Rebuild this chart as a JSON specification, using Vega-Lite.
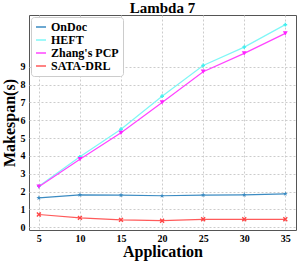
{
  "$schema": "https://vega.github.io/schema/vega-lite/v6.json",
  "width": 267,
  "height": 215,
  "autosize": "none",
  "padding": {"left": 29, "top": 15, "right": 4, "bottom": 31},
  "background": "white",
  "title": {"text": "Lambda 7", "font": "Liberation Serif", "fontSize": 15, "fontWeight": "bold", "color": "black", "offset": -1},
  "config": {
    "view": {"stroke": "#555555", "strokeWidth": 1},
    "axis": {"labelFont": "Liberation Serif", "labelFontWeight": "bold", "labelFontSize": 10, "labelColor": "black",
             "titleFont": "Liberation Serif", "titleFontWeight": "bold", "titleFontSize": 16, "titleColor": "black",
             "gridDash": [2, 2], "gridColor": "#cccccc", "domain": false, "ticks": false}
  },
  "data": {"values": [
    {"app": 5, "v": 1.65, "s": "OnDoc"}, {"app": 10, "v": 1.82, "s": "OnDoc"}, {"app": 15, "v": 1.8, "s": "OnDoc"}, {"app": 20, "v": 1.77, "s": "OnDoc"}, {"app": 25, "v": 1.81, "s": "OnDoc"}, {"app": 30, "v": 1.82, "s": "OnDoc"}, {"app": 35, "v": 1.88, "s": "OnDoc"},
    {"app": 5, "v": 2.3, "s": "HEFT"}, {"app": 10, "v": 3.95, "s": "HEFT"}, {"app": 15, "v": 5.5, "s": "HEFT"}, {"app": 20, "v": 7.35, "s": "HEFT"}, {"app": 25, "v": 9.07, "s": "HEFT"}, {"app": 30, "v": 10.1, "s": "HEFT"}, {"app": 35, "v": 11.36, "s": "HEFT"},
    {"app": 5, "v": 2.28, "s": "Zhang's PCP"}, {"app": 10, "v": 3.82, "s": "Zhang's PCP"}, {"app": 15, "v": 5.3, "s": "Zhang's PCP"}, {"app": 20, "v": 7.0, "s": "Zhang's PCP"}, {"app": 25, "v": 8.72, "s": "Zhang's PCP"}, {"app": 30, "v": 9.75, "s": "Zhang's PCP"}, {"app": 35, "v": 10.87, "s": "Zhang's PCP"},
    {"app": 5, "v": 0.72, "s": "SATA-DRL"}, {"app": 10, "v": 0.53, "s": "SATA-DRL"}, {"app": 15, "v": 0.42, "s": "SATA-DRL"}, {"app": 20, "v": 0.37, "s": "SATA-DRL"}, {"app": 25, "v": 0.45, "s": "SATA-DRL"}, {"app": 30, "v": 0.45, "s": "SATA-DRL"}, {"app": 35, "v": 0.45, "s": "SATA-DRL"}
  ]},
  "encoding": {
    "x": {"field": "app", "type": "quantitative", "scale": {"domain": [3.8, 36.3], "nice": false, "zero": false},
          "axis": {"values": [5, 10, 15, 20, 25, 30, 35], "title": "Application", "titlePadding": 0, "labelPadding": 3}},
    "y": {"field": "v", "type": "quantitative", "scale": {"domain": [-0.15, 11.9], "nice": false, "zero": false},
          "axis": {"values": [0, 1, 2, 3, 4, 5, 6, 7, 8, 9], "title": "Makespan(s)", "titlePadding": 3, "labelPadding": 4}}
  },
  "layer": [
    {"mark": {"type": "line", "strokeWidth": 1.2},
     "encoding": {"color": {"field": "s", "type": "nominal",
       "scale": {"domain": ["OnDoc", "HEFT", "Zhang's PCP", "SATA-DRL"], "range": ["#3b8bc2", "#7ff7f7", "#ff44ff", "#ff5a5a"]},
       "legend": {"title": null, "orient": "top-left", "offset": 2, "symbolType": "stroke", "symbolSize": 100, "symbolStrokeWidth": 1.5,
                  "labelFont": "Liberation Serif", "labelFontWeight": "bold", "labelFontSize": 12, "labelColor": "black",
                  "rowPadding": 1, "padding": 4, "fillColor": "white", "strokeColor": "#cccccc", "cornerRadius": 3}}}},
    {"transform": [{"filter": "datum.s === 'OnDoc'"}],
     "mark": {"type": "point", "filled": true, "size": 26, "opacity": 1, "strokeWidth": 0, "color": "#3b8bc2",
              "shape": "M0,-1L0.24,-0.33L0.95,-0.31L0.38,0.12L0.59,0.81L0,0.4L-0.59,0.81L-0.38,0.12L-0.95,-0.31L-0.24,-0.33Z"}},
    {"transform": [{"filter": "datum.s === 'HEFT'"}],
     "mark": {"type": "point", "filled": true, "size": 14, "opacity": 1, "strokeWidth": 0, "color": "#44eeee", "shape": "cross"}},
    {"transform": [{"filter": "datum.s === \"Zhang's PCP\""}],
     "mark": {"type": "point", "filled": true, "size": 24, "opacity": 1, "strokeWidth": 0, "color": "#ff22ff", "shape": "triangle-down"}},
    {"transform": [{"filter": "datum.s === 'SATA-DRL'"}],
     "mark": {"type": "point", "filled": true, "size": 24, "opacity": 1, "strokeWidth": 0, "color": "#ff4444",
              "shape": "M-1,-0.6L-0.6,-1L0,-0.4L0.6,-1L1,-0.6L0.4,0L1,0.6L0.6,1L0,0.4L-0.6,1L-1,0.6L-0.4,0Z"}}
  ]
}
